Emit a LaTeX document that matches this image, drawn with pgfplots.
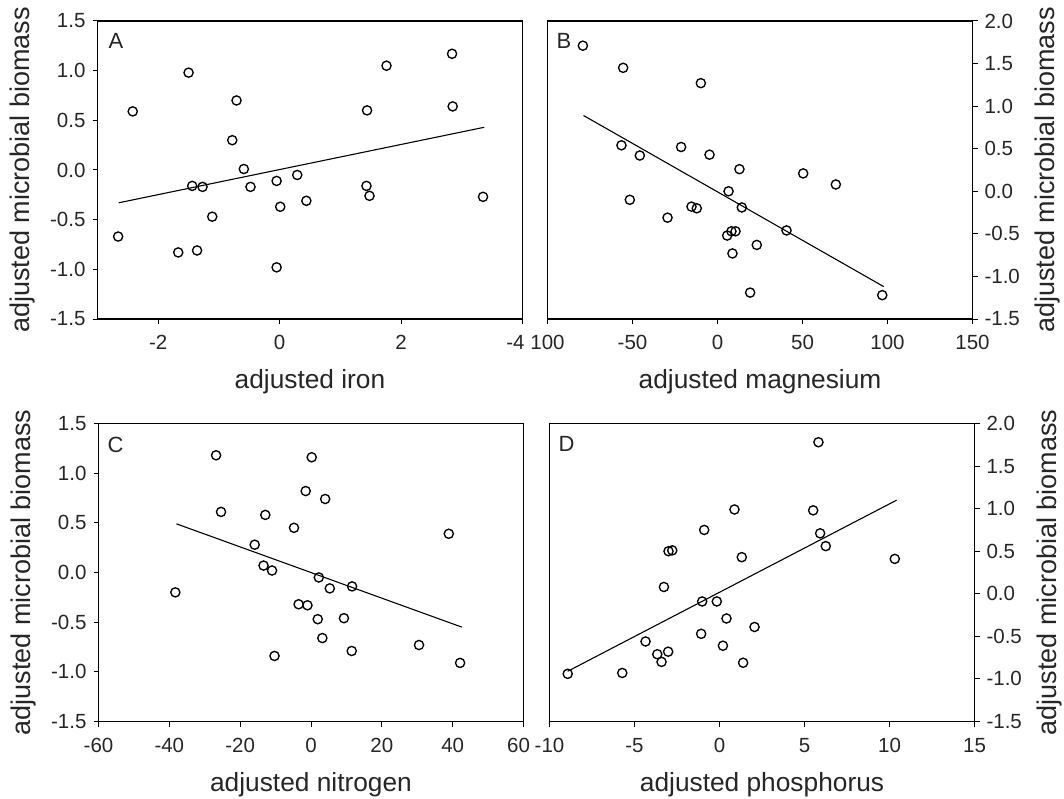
\documentclass[border=0pt]{standalone}
\usepackage{fontspec}
\setmainfont{Liberation Sans}
\usepackage{pgfplots}
\pgfplotsset{compat=1.18}

\pgfplotsset{
  panel/.style={
    scale only axis, width=425pt, height=298pt,
    axis line style={line width=1.2pt},
    tick align=outside, major tick length=5pt,
    tick style={line width=1pt, black},
    xtick pos=left,
    ticklabel style={font=\fontsize{20.5}{23}\selectfont, text=black!85},
    xticklabel shift=8pt, yticklabel shift=3.5pt,
    xlabel style={font=\fontsize{26.3}{30}\selectfont, text=black!85},
    ylabel style={font=\fontsize{27}{30}\selectfont, text=black!85},
    xlabel shift=13pt, ylabel shift=8pt,
    ylabel={adjusted microbial biomass},
  },
  dots/.style={only marks, mark=o, mark size=4.6pt, mark options={line width=1.35pt, black}},
  fit/.style={no marks, line width=1.1pt, black},
}
\tikzset{letter/.style={anchor=north west, inner sep=0pt, font=\fontsize{22}{24}\selectfont, text=black!85}}

\begin{document}
\begin{tikzpicture}
\path[use as bounding box] (0pt,0pt) rectangle (1064pt,-799pt);

% A: iron
\begin{axis}[panel, at={(97.5pt,-21pt)}, anchor=north west,
  xmin=-3, xmax=4, ymin=-1.5, ymax=1.5,
  xtick={-2,0,2,4}, xticklabels={-2,0,2,\hspace*{-14pt}-4},
  ytick={-1.5,-1,-0.5,0,0.5,1,1.5},
  yticklabels={-1.5,-1.0,-0.5,0.0,0.5,1.0,1.5},
  ytick pos=left,
  xlabel={adjusted iron}]
\addplot[dots] coordinates {
(-2.66,-0.67) (-2.42,0.59) (-1.67,-0.83) (-1.50,0.98) (-1.44,-0.16) (-1.36,-0.81)
(-1.27,-0.17) (-1.11,-0.47) (-0.78,0.30) (-0.71,0.70) (-0.59,0.01) (-0.48,-0.17)
(-0.05,-0.11) (-0.05,-0.98) (0.01,-0.37) (0.29,-0.05) (0.44,-0.31) (1.44,0.60)
(1.43,-0.16) (1.48,-0.26) (1.76,1.05) (2.84,1.17) (2.85,0.64) (3.35,-0.27)};
\addplot[fit] coordinates {(-2.65,-0.33) (3.37,0.43)};
\node[letter, xshift=11pt, yshift=-12.5pt] at (rel axis cs:0,1) {A};
\end{axis}

% B: magnesium
\begin{axis}[panel, at={(547.5pt,-21pt)}, anchor=north west,
  xmin=-100, xmax=150, ymin=-1.5, ymax=2.0,
  xtick={-100,-50,0,50,100,150}, xticklabels={100,-50,0,50,100,150},
  ytick={-1.5,-1,-0.5,0,0.5,1,1.5,2},
  yticklabels={-1.5,-1.0,-0.5,0.0,0.5,1.0,1.5,2.0},
  ytick pos=right, yticklabel pos=right,
  xlabel={adjusted magnesium}]
\addplot[dots] coordinates {
(-79.2,1.71) (-55.5,1.45) (-9.8,1.27) (-56.5,0.54) (-45.7,0.42) (-21.4,0.52)
(-4.7,0.43) (12.9,0.26) (50.4,0.21) (69.6,0.08) (6.5,0.00) (-51.6,-0.10)
(-15.3,-0.18) (-12.2,-0.20) (14.3,-0.19) (-29.4,-0.31) (8.2,-0.47) (10.6,-0.47)
(5.7,-0.52) (40.6,-0.46) (23.1,-0.63) (8.8,-0.73) (19.2,-1.19) (96.9,-1.22)};
\addplot[fit] coordinates {(-78.8,0.89) (97.8,-1.12)};
\node[letter, xshift=9pt, yshift=-12pt] at (rel axis cs:0,1) {B};
\end{axis}

% C: nitrogen
\begin{axis}[panel, at={(98.5pt,-423.5pt)}, anchor=north west,
  xmin=-60, xmax=60, ymin=-1.5, ymax=1.5,
  xtick={-60,-40,-20,0,20,40,60}, xticklabels={-60,-40,-20,0,20,40,\hspace*{-10pt}60},
  ytick={-1.5,-1,-0.5,0,0.5,1,1.5},
  yticklabels={-1.5,-1.0,-0.5,0.0,0.5,1.0,1.5},
  ytick pos=left,
  xlabel={adjusted nitrogen}]
\addplot[dots] coordinates {
(-26.8,1.18) (0.2,1.16) (-1.5,0.82) (4.0,0.74) (-25.4,0.61) (-12.9,0.58)
(-4.8,0.45) (38.9,0.39) (-15.9,0.28) (-13.4,0.07) (-11.0,0.02) (2.2,-0.05)
(11.6,-0.14) (5.3,-0.16) (-38.3,-0.20) (-3.5,-0.32) (-1.0,-0.33) (9.3,-0.46)
(1.9,-0.47) (3.2,-0.66) (30.5,-0.73) (11.5,-0.79) (-10.3,-0.84) (42.1,-0.91)};
\addplot[fit] coordinates {(-38.0,0.49) (42.6,-0.55)};
\node[letter, xshift=9pt, yshift=-13pt] at (rel axis cs:0,1) {C};
\end{axis}

% D: phosphorus
\begin{axis}[panel, at={(549.5pt,-423.5pt)}, anchor=north west,
  xmin=-10, xmax=15, ymin=-1.5, ymax=2.0,
  xtick={-10,-5,0,5,10,15}, xticklabels={-10,-5,0,5,10,15},
  ytick={-1.5,-1,-0.5,0,0.5,1,1.5,2},
  yticklabels={-1.5,-1.0,-0.5,0.0,0.5,1.0,1.5,2.0},
  ytick pos=right, yticklabel pos=right,
  xlabel={adjusted phosphorus}]
\addplot[dots] coordinates {
(5.82,1.78) (0.88,0.99) (5.51,0.98) (-0.90,0.75) (5.92,0.71) (6.25,0.56)
(-3.00,0.50) (-2.78,0.51) (1.31,0.43) (10.31,0.41) (-3.27,0.08) (-1.02,-0.09)
(-0.16,-0.09) (0.41,-0.29) (2.06,-0.39) (-1.08,-0.47) (-4.35,-0.56) (0.20,-0.61)
(-3.66,-0.71) (-3.02,-0.68) (-3.41,-0.80) (1.39,-0.81) (-5.72,-0.93) (-8.93,-0.94)};
\addplot[fit] coordinates {(-8.93,-0.91) (10.42,1.10)};
\node[letter, xshift=9pt, yshift=-13pt] at (rel axis cs:0,1) {D};
\end{axis}
\end{tikzpicture}
\end{document}
